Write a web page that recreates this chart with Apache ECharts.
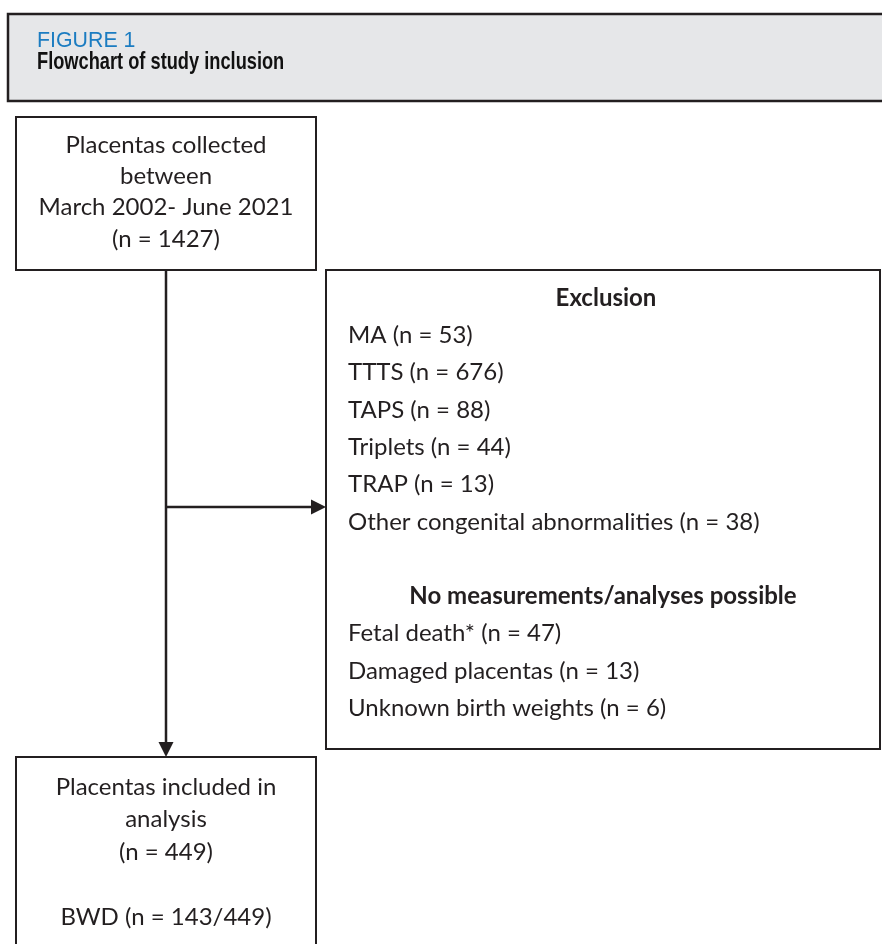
<!DOCTYPE html>
<html>
<head>
<meta charset="utf-8">
<script src="https://cdn.jsdelivr.net/npm/echarts@6/dist/echarts.min.js"></script>
<style>
  html, body { margin: 0; padding: 0; background: #fff; }
  #chart { width: 882px; height: 944px; }
</style>
</head>
<body>
<div id="chart"></div>
<script>
// figure text
const figureLabel = 'FIGURE 1'
const figureTitle = 'Flowchart of study inclusion'

// top box
const collectedLines = ['Placentas collected', 'between', 'March 2002- June 2021']
const collectedCount = 1427

// exclusion box
const exclusionLabels = ['MA', 'TTTS', 'TAPS', 'Triplets', 'TRAP', 'Other congenital abnormalities']
const exclusionCounts = [53, 676, 88, 44, 13, 38]
const noMeasureLabels = ['Fetal death*', 'Damaged placentas', 'Unknown birth weights']
const noMeasureCounts = [47, 13, 6]

// bottom box
const includedLines = ['Placentas included in', 'analysis']
const includedCount = 449
const bwdCount = 143

const ink = '#231f20'
const boxFont = 'Lato, "Open Sans", sans-serif'
const boxSize = 24
const headFont = '"Liberation Sans", Arial, sans-serif'

const chart = echarts.init(document.getElementById('chart'))

function txt(text, x, y, opts) {
    return {
        type: 'text',
        z: 10,
        style: Object.assign({
            text: text,
            x: x,
            y: y,
            fill: ink,
            fontSize: boxSize,
            fontFamily: boxFont,
            textAlign: 'center',
            textVerticalAlign: 'middle'
        }, opts || {})
    }
}

function box(x, y, w, h) {
    return {
        type: 'rect',
        shape: { x: x, y: y, width: w, height: h },
        style: { fill: '#fff', stroke: ink, lineWidth: 2 }
    }
}

const elements = []

// header band
elements.push({
    type: 'rect',
    shape: { x: 8, y: 14, width: 900, height: 87 },
    style: { fill: '#e6e7e9', stroke: ink, lineWidth: 2.5 }
})
elements.push({
    type: 'text',
    x: 37, y: 41,
    scaleX: 0.97,
    style: {
        text: figureLabel, x: 0, y: 0, fill: '#1b7cc1',
        fontSize: 22, fontFamily: headFont,
        textAlign: 'left', textVerticalAlign: 'middle'
    }
})
elements.push({
    type: 'text',
    x: 37, y: 62,
    scaleX: 0.76,
    style: {
        text: figureTitle, x: 0, y: 0, fill: '#111',
        fontSize: 24, fontWeight: 'bold', fontFamily: headFont,
        textAlign: 'left', textVerticalAlign: 'middle'
    }
})

// top box
elements.push(box(16, 117, 300, 153))
const topText = collectedLines.concat(['(n = ' + collectedCount + ')'])
topText.forEach((line, i) => elements.push(txt(line, 166, 145 + i * 31.3)))

// exclusion box
elements.push(box(326, 270, 554, 479))
const lineGap = 37.3
let y = 298
elements.push(txt('Exclusion', 606, y, { fontWeight: 'bold' }))
exclusionLabels.forEach((lab, i) => {
    y += lineGap
    elements.push(txt(lab + ' (n = ' + exclusionCounts[i] + ')', 348, y, { textAlign: 'left' }))
})
y += lineGap * 2
elements.push(txt('No measurements/analyses possible', 603, y, { fontWeight: 'bold' }))
noMeasureLabels.forEach((lab, i) => {
    y += lineGap
    elements.push(txt(lab + ' (n = ' + noMeasureCounts[i] + ')', 348, y, { textAlign: 'left' }))
})

// bottom box
elements.push(box(16, 757, 300, 200))
const bottomText = includedLines.concat(['(n = ' + includedCount + ')', '', 'BWD (n = ' + bwdCount + '/' + includedCount + ')'])
bottomText.forEach((line, i) => {
    if (line) elements.push(txt(line, 166, 787 + i * 32.5))
})

// connectors
elements.push({
    type: 'line',
    shape: { x1: 166, y1: 270, x2: 166, y2: 744 },
    style: { stroke: ink, lineWidth: 2.5 }
})
elements.push({
    type: 'polygon',
    shape: { points: [[158.5, 742], [173.5, 742], [166, 757]] },
    style: { fill: ink }
})
elements.push({
    type: 'line',
    shape: { x1: 166, y1: 507, x2: 313, y2: 507 },
    style: { stroke: ink, lineWidth: 2.5 }
})
elements.push({
    type: 'polygon',
    shape: { points: [[311, 499.5], [311, 514.5], [326, 507]] },
    style: { fill: ink }
})

chart.setOption({
    animation: false,
    graphic: { elements: elements }
})
</script>
</body>
</html>
